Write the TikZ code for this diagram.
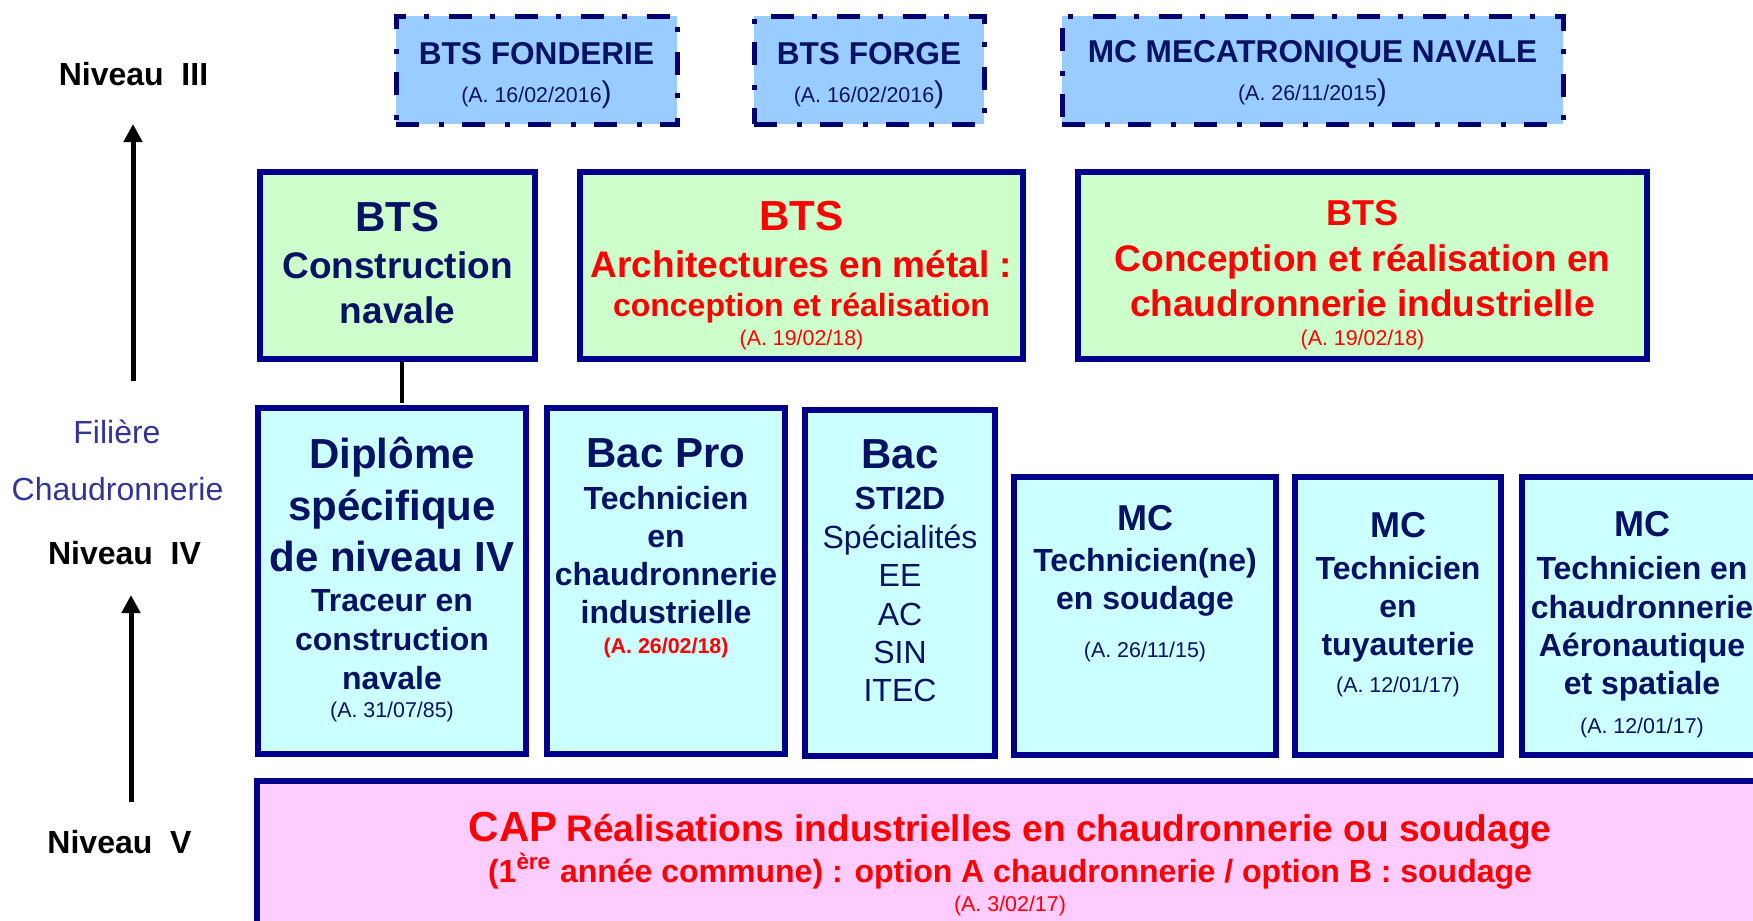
\documentclass[tikz,border=0pt]{standalone}
\usepackage{fontspec}
\setmainfont{Liberation Sans}
\usetikzlibrary{positioning,arrows.meta}

\definecolor{boxblue}{RGB}{0,0,140}
\definecolor{topblue}{RGB}{0,0,110}
\definecolor{navytxt}{RGB}{8,18,100}
\definecolor{topfill}{RGB}{153,204,255}
\definecolor{btsfill}{RGB}{204,255,204}
\definecolor{ivfill}{RGB}{204,255,255}
\definecolor{capfill}{RGB}{255,204,255}
\definecolor{filcol}{RGB}{51,51,153}

\lineskiplimit=-100pt
\newcommand{\arrdate}[1]{{\fontsize{10.7}{12}\selectfont\mdseries (A. #1)}}

\begin{document}
\begin{tikzpicture}[x=0.5pt, y=-0.5pt,
    box/.style={draw=boxblue, line width=3pt, outer sep=0pt, inner sep=0pt},
    topbox/.style={box, draw=topblue, line width=2.5pt, fill=topfill,
      dash pattern=on 11.5pt off 10pt on 2.5pt off 9pt, minimum height=54pt},
    btsbox/.style={box, fill=btsfill, minimum height=93.5pt},
    ivbox/.style={box, fill=ivfill, minimum height=173pt},
    mcbox/.style={box, fill=ivfill, minimum height=139pt},
    capbox/.style={box, fill=capfill},
    boxtxt/.style={align=center, anchor=north, inner sep=0pt, outer sep=0pt, text=navytxt},
    niv/.style={anchor=base, font=\fontsize{16}{19}\selectfont\bfseries},
    fil/.style={anchor=base, text=filcol, font=\fontsize{16}{19}\selectfont},
    lvlarrow/.style={line width=2.5pt, -{Triangle[width=9pt,length=9pt]}},
    link/.style={line width=2pt, shorten <=1.5pt, shorten >=2.5pt}]

    \useasboundingbox (0,0) rectangle (1753,921);
    \clip (0,0) rectangle (1753,921);

    % Levels

    \node[niv] (niv3) at (133.5,85) {Niveau\ \ III};
    \node[fil] (fil) at (117,443.5) {Filière};
    \node[fil] (chaud) at (117.5,500.5) {Chaudronnerie};
    \node[niv] (niv4) at (124.5,564) {Niveau\ \ IV};
    \node[niv] (niv5) at (119.5,853.5) {Niveau\ \ V};

    \coordinate (up3s) at (133,381);
    \coordinate (up3e) at (133,124);
    \coordinate (up4s) at (131,802);
    \coordinate (up4e) at (131,595);
    \draw[lvlarrow] (up3s) -- (up3e);
    \draw[lvlarrow] (up4s) -- (up4e);

    % Niveau III : dashed boxes

    \node[topbox, minimum width=140.5pt] (fond) at (536.5,70) {};
    \node[topbox, minimum width=115pt] (forge) at (869,70) {};
    \node[topbox, minimum width=250.5pt] (meca) at (1312.5,70) {};

    \node[boxtxt, below=13pt of fond.north, font=\fontsize{15.8}{19.2}\selectfont\bfseries] (fondtxt)
      {BTS FONDERIE\\ {\fontsize{10.7}{12}\selectfont\mdseries (A. 16/02/2016}{\fontsize{15}{15}\selectfont\mdseries )}};
    \node[boxtxt, below=13pt of forge.north, font=\fontsize{15.8}{19.2}\selectfont\bfseries] (forgetxt)
      {BTS FORGE\\ {\fontsize{10.7}{12}\selectfont\mdseries (A. 16/02/2016}{\fontsize{15}{15}\selectfont\mdseries )}};
    \node[boxtxt, below=12pt of meca.north, font=\fontsize{15.8}{19.2}\selectfont\bfseries] (mecatxt)
      {MC MECATRONIQUE NAVALE\\ {\fontsize{10.7}{12}\selectfont\mdseries (A. 26/11/2015}{\fontsize{15}{15}\selectfont\mdseries )}};

    % Niveau III : BTS

    \node[btsbox, minimum width=137.5pt] (cn) at (397.5,265.5) {};
    \node[btsbox, minimum width=221.5pt] (arch) at (801.5,265.5) {};
    \node[btsbox, minimum width=284.5pt] (conc) at (1362.5,265.5) {};

    \node[boxtxt, below=15pt of cn.north, font=\fontsize{18.5}{22.5}\selectfont\bfseries] (cntxt)
      {{\fontsize{21}{22.5}\selectfont BTS}\\[1.1pt] Construction\\ navale};
    \node[boxtxt, below=14.5pt of arch.north, text=red, font=\fontsize{16}{19.7}\selectfont\bfseries] (archtxt)
      {{\fontsize{21}{22}\selectfont BTS}\\[3.9pt]
       {\fontsize{18.5}{22}\selectfont Architectures en métal :}\\
       conception et réalisation\\[-5.2pt]
       \arrdate{19/02/18}};
    \node[boxtxt, below=14pt of conc.north, text=red, font=\fontsize{18.5}{22.2}\selectfont\bfseries] (conctxt)
      {{\fontsize{18}{22}\selectfont BTS}\\[1.2pt]
       Conception et réalisation en\\
       chaudronnerie industrielle\\[-7.5pt]
       \arrdate{19/02/18}};

    % Niveau IV

    \node[ivbox, minimum width=134pt] (dipl) at (392,581.3) {};
    \node[ivbox, minimum width=119pt] (bacpro) at (666,581.3) {};
    \node[ivbox, minimum width=95pt] (bac) at (900,583) {};
    \node[mcbox, minimum width=131pt] (mcs) at (1145,615.5) {};
    \node[mcbox, minimum width=103pt] (mct) at (1398,616) {};
    \node[mcbox, minimum width=120pt] (mca) at (1642,616) {};

    \node[boxtxt, below=14.5pt of dipl.north, font=\fontsize{16}{19.3}\selectfont\bfseries] (dipltxt)
      {{\fontsize{21}{22}\selectfont Diplôme}\\[6.5pt]
       {\fontsize{21}{22}\selectfont spécifique}\\[6.5pt]
       {\fontsize{21}{22}\selectfont de niveau IV}\\[0.7pt]
       Traceur en\\ construction\\ navale\\[-5pt]
       \arrdate{31/07/85}};
    \node[boxtxt, below=15pt of bacpro.north, font=\fontsize{16}{19.1}\selectfont\bfseries] (bacprotxt)
      {{\fontsize{21}{22}\selectfont Bac Pro}\\[2pt]
       Technicien\\ en\\ chaudronnerie\\ industrielle\\[-4.6pt]
       {\fontsize{10.7}{12}\selectfont\color{red}(A. 26/02/18)}};
    \node[boxtxt, below=15pt of bac.north, font=\fontsize{16}{19.2}\selectfont\bfseries] (bactxt)
      {{\fontsize{21}{22}\selectfont Bac}\\[1.3pt]
       STI2D\\ {\mdseries Spécialités}\\ {\mdseries EE}\\ {\mdseries AC}\\ {\mdseries SIN}\\ {\mdseries ITEC}};
    \node[boxtxt, below=14.6pt of mcs.north, font=\fontsize{16}{19.05}\selectfont\bfseries] (mcstxt)
      {{\fontsize{18}{20}\selectfont MC}\\[1.4pt]
       Technicien(ne)\\ en soudage\\[4.9pt]
       \arrdate{26/11/15}};
    \node[boxtxt, below=17.6pt of mct.north, font=\fontsize{16}{19.1}\selectfont\bfseries] (mcttxt)
      {{\fontsize{18}{20}\selectfont MC}\\[1.9pt]
       Technicien\\ en\\ tuyauterie\\[-0.7pt]
       \arrdate{12/01/17}};
    \node[boxtxt, below=17pt of mca.north, font=\fontsize{16}{19.1}\selectfont\bfseries] (mcatxt)
      {{\fontsize{18}{20}\selectfont MC}\\[2.8pt]
       Technicien en\\ chaudronnerie\\ Aéronautique\\ et spatiale\\[0.2pt]
       \arrdate{12/01/17}};

    % Niveau V

    \node[capbox, minimum width=753pt, minimum height=79.5pt] (cap) at (1010,860.5) {};
    \node[boxtxt, below=15.6pt of cap.north, text=red, font=\fontsize{16}{18.8}\selectfont\bfseries] (captxt)
      {{\fontsize{21}{22}\selectfont CAP} {\fontsize{18.5}{22}\selectfont Réalisations industrielles en chaudronnerie ou soudage}\\[1.7pt]
       (1\textsuperscript{ère} année commune) : option A chaudronnerie / option B : soudage\\[-4.3pt]
       \arrdate{3/02/17}};

    % Edges

    \draw[link] ([xshift=2.25pt]cn.south) -- ([xshift=2.25pt]cn.south |- dipl.north);

\end{tikzpicture}
\end{document}
